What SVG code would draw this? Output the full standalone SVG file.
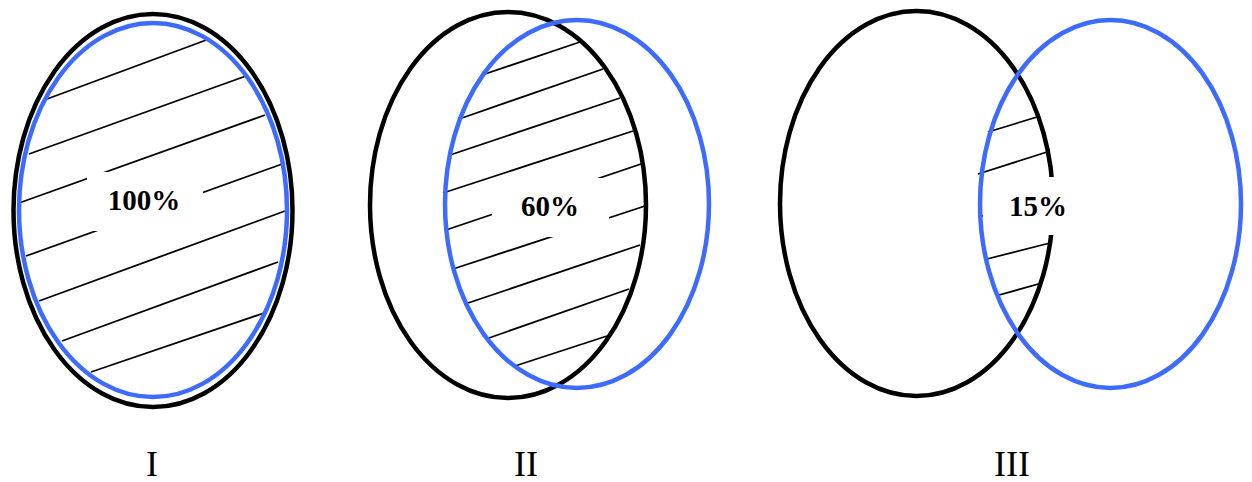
<svg xmlns="http://www.w3.org/2000/svg" width="1252" height="482" viewBox="0 0 1252 482">
<style>
.blk{fill:none;stroke:#000;stroke-width:4.5}
.blu{fill:none;stroke:#3d6bff;stroke-width:4.5}
.h{stroke:#000;stroke-width:1.8;fill:none}
.box{fill:#fff;stroke:none}
.pct{font-family:"Liberation Serif","Times New Roman",serif;font-weight:bold;font-size:29px;text-anchor:middle;fill:#000}
.lbl{font-family:"Liberation Serif","Times New Roman",serif;font-size:36px;text-anchor:middle;fill:#000}
</style>
<rect width="1252" height="482" fill="#fff"/>
<g id="diagram-I">
<ellipse class="blk" cx="153" cy="210.5" rx="139.5" ry="196.5"/>
<g class="h">
<line x1="47" y1="99" x2="209" y2="39"/>
<line x1="29" y1="154" x2="246" y2="76"/>
<line x1="19" y1="203" x2="265" y2="115"/>
<line x1="26" y1="256" x2="285" y2="163"/>
<line x1="39" y1="301" x2="285" y2="211"/>
<line x1="62" y1="341" x2="278" y2="262"/>
<line x1="91" y1="372" x2="267" y2="312"/>
</g>
<rect class="box" x="87" y="172" width="116" height="59"/>
<text class="pct" x="144" y="210">100%</text>
<ellipse class="blu" cx="153" cy="210" rx="134" ry="187"/>
<text class="lbl" x="152" y="476">I</text>
</g>
<g id="diagram-II">
<ellipse class="blk" cx="508" cy="205" rx="138" ry="193"/>
<g class="h">
<line x1="482" y1="75" x2="580" y2="42"/>
<line x1="462" y1="118" x2="603" y2="69"/>
<line x1="450" y1="155" x2="620" y2="98"/>
<line x1="443" y1="193" x2="633" y2="131"/>
<line x1="446" y1="230" x2="641" y2="164"/>
<line x1="453" y1="269" x2="645" y2="206"/>
<line x1="468" y1="303" x2="640" y2="245"/>
<line x1="486" y1="339" x2="629" y2="289"/>
<line x1="515" y1="366" x2="607" y2="336"/>
</g>
<rect class="box" x="492" y="178" width="117" height="59"/>
<text class="pct" x="550" y="216">60%</text>
<ellipse class="blu" cx="577" cy="204" rx="132" ry="184"/>
<text class="lbl" x="526" y="476">II</text>
</g>
<g id="diagram-III">
<ellipse class="blk" cx="916.5" cy="203.5" rx="136.5" ry="192.5"/>
<g class="h">
<line x1="988" y1="132" x2="1037" y2="117"/>
<line x1="978" y1="174" x2="1047" y2="152"/>
<line x1="979" y1="217" x2="1050" y2="195"/>
<line x1="987" y1="259" x2="1050" y2="243"/>
<line x1="999" y1="295" x2="1042" y2="283"/>
</g>
<rect class="box" x="983" y="177" width="114" height="58"/>
<text class="pct" x="1038" y="216">15%</text>
<ellipse class="blu" cx="1110.5" cy="204" rx="130.5" ry="184"/>
<text class="lbl" x="1012" y="476">III</text>
</g>
<g id="connectors"></g>
</svg>
